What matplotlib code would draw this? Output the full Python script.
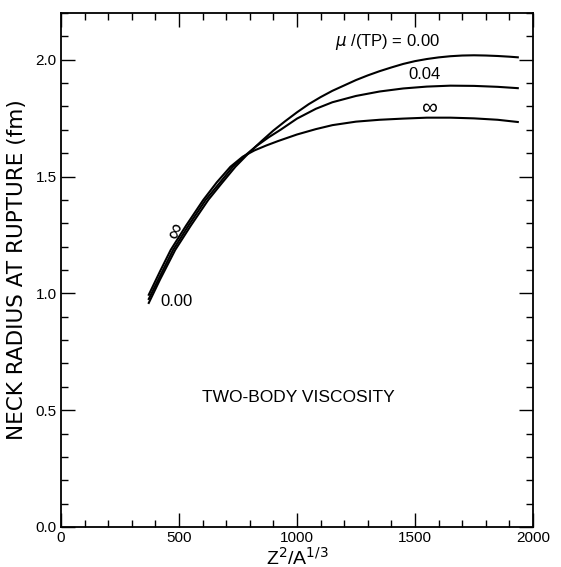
import numpy as np
import matplotlib
matplotlib.use("Agg")
import matplotlib.pyplot as plt
from matplotlib.ticker import MultipleLocator

plt.rcParams['font.family'] = ['Liberation Sans', 'DejaVu Sans']

# Z^2/A^(1/3) sample points along each curve
z_inf = [370, 420, 465, 530, 603, 660, 718, 770, 820, 870, 920, 1000, 1080,
         1150, 1250, 1350, 1450, 1550, 1650, 1750, 1850, 1940]
r_inf = [0.99, 1.095, 1.186, 1.29, 1.40, 1.475, 1.542, 1.585, 1.612, 1.633,
         1.652, 1.68, 1.703, 1.72, 1.735, 1.743, 1.748, 1.752, 1.752, 1.749,
         1.743, 1.733]

z_004 = [370, 420, 475, 540, 613, 670, 728, 780, 830, 880, 930, 1000, 1080,
         1150, 1250, 1350, 1450, 1550, 1650, 1750, 1850, 1940]
r_004 = [0.972, 1.075, 1.186, 1.29, 1.40, 1.47, 1.542, 1.59, 1.632, 1.668,
         1.70, 1.748, 1.79, 1.818, 1.845, 1.864, 1.877, 1.885, 1.889, 1.888,
         1.884, 1.878]

z_000 = [370, 420, 484, 550, 624, 680, 739, 800, 850, 900, 950, 1000, 1050,
         1100, 1150, 1200, 1250, 1300, 1350, 1400, 1450, 1500, 1550, 1600,
         1650, 1700, 1750, 1800, 1850, 1900, 1940]
r_000 = [0.955, 1.06, 1.186, 1.29, 1.40, 1.47, 1.542, 1.605, 1.652, 1.697,
         1.737, 1.775, 1.81, 1.84, 1.867, 1.89, 1.913, 1.933, 1.951, 1.967,
         1.982, 1.994, 2.003, 2.010, 2.015, 2.018, 2.019, 2.018, 2.016, 2.013,
         2.010]

x_ticks = [0, 500, 1000, 1500, 2000]
y_ticks = [0.0, 0.5, 1.0, 1.5, 2.0]

fig = plt.figure(figsize=(5.61, 5.67), dpi=100)
ax = fig.add_axes([61/561, 40/567, 472/561, 514/567])

for z, r in [(z_inf, r_inf), (z_004, r_004), (z_000, r_000)]:
    ax.plot(z, r, color='black', lw=1.5, solid_capstyle='butt',
            solid_joinstyle='round')

ax.set_xlim(0, 2000)
ax.set_ylim(0, 2.2)
ax.set_xticks(x_ticks)
ax.set_yticks(y_ticks)
ax.set_yticklabels([f"{v:.1f}" for v in y_ticks])
ax.xaxis.set_minor_locator(MultipleLocator(100))
ax.yaxis.set_minor_locator(MultipleLocator(0.1))
ax.tick_params(which='both', direction='in', top=True, right=True,
               width=1.0, labelsize=11, pad=3)
ax.tick_params(which='major', length=10)
ax.tick_params(which='minor', length=5)
for s in ax.spines.values():
    s.set_linewidth(1.3)

ax.set_xlabel(r"Z$^2$/A$^{1/3}$", fontsize=14, labelpad=1)
ax.set_ylabel("NECK RADIUS AT RUPTURE (fm)", fontsize=15.5, labelpad=6,
              family='DejaVu Sans')

ax.text(1163, 2.076, r"$\mu$ /(TP) = 0.00", fontsize=12, va='center')
ax.text(1541, 1.935, "0.04", fontsize=12, ha='center', va='center')
ax.text(1558, 1.79, "\u221e", fontsize=16, ha='center', va='center')
ax.text(488, 1.264, "\u221e", fontsize=16, ha='center', va='center', rotation=68)
ax.text(420, 0.965, "0.00", fontsize=12, va='center')
ax.text(1006, 0.553, "TWO-BODY VISCOSITY", fontsize=12.5, ha='center', va='center')

fig.savefig("out.png", dpi=100)
